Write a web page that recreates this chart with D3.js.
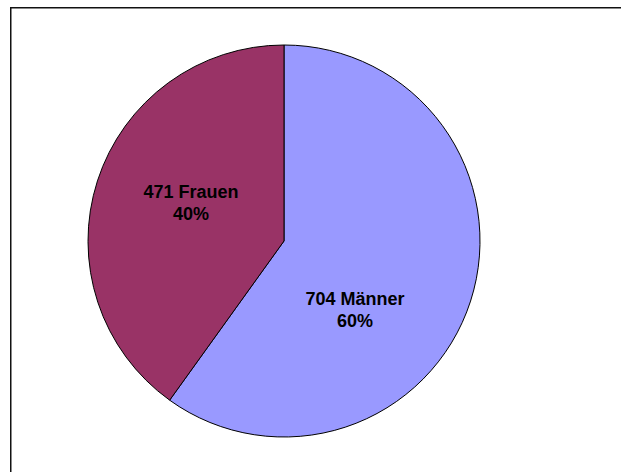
<!DOCTYPE html>
<html>
<head>
<meta charset="utf-8">
<script src="https://cdn.jsdelivr.net/npm/d3@7"></script>
<style>
  body { margin: 0; background: #fff; }
  svg { display: block; }
</style>
</head>
<body>
<svg width="621" height="472"></svg>
<script>
const width = 621;
const height = 472;

// data
const categories = ["Männer", "Frauen"];
const counts = [704, 471];
const percents = ["60%", "40%"];
const colors = ["#9999FF", "#993366"];

const cx = 284;
const cy = 241;
const radius = 196;

const svg = d3.select("svg");

// chart frame (runs off the right and bottom edge)
svg.append("rect")
  .attr("x", 10.75)
  .attr("y", 7.75)
  .attr("width", 700)
  .attr("height", 600)
  .attr("fill", "none")
  .attr("stroke", "#111")
  .attr("stroke-width", 1.5);

const data = categories.map((c, i) => ({ name: c, value: counts[i], pct: percents[i], color: colors[i] }));

const pie = d3.pie().sort(null).value(d => d.value);
const arc = d3.arc().innerRadius(0).outerRadius(radius);

const g = svg.append("g").attr("transform", `translate(${cx},${cy})`);

const arcs = pie(data);

g.selectAll("path")
  .data(arcs)
  .enter()
  .append("path")
  .attr("d", arc)
  .attr("fill", d => d.data.color)
  .attr("stroke", "#000")
  .attr("stroke-width", 1);

// Excel pushes the labels around a bit, so nudge them
const labelRadius = radius * 0.52;
const labelNudge = [[-26, 38], [4, -7]];

const labels = g.selectAll("text.label")
  .data(arcs)
  .enter()
  .append("text")
  .attr("class", "label")
  .attr("transform", (d, i) => {
    const a = (d.startAngle + d.endAngle) / 2;
    const x = Math.sin(a) * labelRadius + labelNudge[i][0];
    const y = -Math.cos(a) * labelRadius + labelNudge[i][1];
    return `translate(${x},${y})`;
  })
  .attr("text-anchor", "middle")
  .style("font-family", "Arial, 'Liberation Sans', sans-serif")
  .style("font-weight", "bold")
  .style("font-size", "18px")
  .attr("fill", "#000");

labels.append("tspan")
  .attr("x", 0)
  .attr("y", -5)
  .text(d => `${d.data.value} ${d.data.name}`);

labels.append("tspan")
  .attr("x", 0)
  .attr("y", 17)
  .text(d => d.data.pct);
</script>
</body>
</html>
